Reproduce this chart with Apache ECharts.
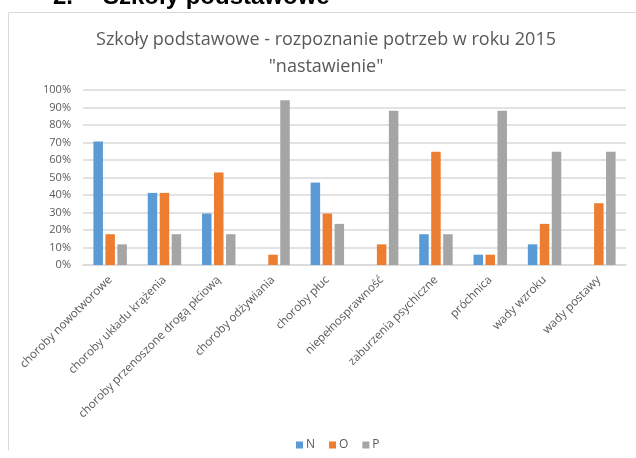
<!DOCTYPE html>
<html>
<head>
<meta charset="utf-8">
<script src="https://cdn.jsdelivr.net/npm/echarts@6/dist/echarts.min.js"></script>
<style>html,body{margin:0;padding:0;background:#fff;}#c{width:636px;height:458px;}</style>
</head>
<body>
<div id="c"></div>
<script>
const categories = ['choroby nowotworowe','choroby układu krążenia','choroby przenoszone drogą płciową','choroby odżywiania','choroby płuc','niepełnosprawność','zaburzenia psychiczne','próchnica','wady wzroku','wady postawy'];
const seriesNames = ['N','O','P'];
const valuesN = [70.6, 41.2, 29.4, 0, 47.1, 0, 17.6, 5.9, 11.8, 0];
const valuesO = [17.6, 41.2, 52.9, 5.9, 29.4, 11.8, 64.7, 5.9, 23.5, 35.3];
const valuesP = [11.8, 17.6, 17.6, 94.1, 23.5, 88.2, 17.6, 88.2, 64.7, 64.7];
const yTicks = [0,10,20,30,40,50,60,70,80,90,100];
const colors = ['#5B9BD5','#ED7D31','#A5A5A5'];
const font = 'Open Sans';
const chart = echarts.init(document.getElementById('c'));
const mk = (name, data, i) => ({
  name, type: 'bar', data, barWidth: 9.5, barGap: '26%',
  itemStyle: { color: colors[i] }
});
chart.setOption({
  animation: false,
  textStyle: { fontFamily: font },
  title: {
    text: 'Szkoły podstawowe - rozpoznanie potrzeb w roku 2015\n"nastawienie"',
    left: 321, top: 21, textAlign: 'center',
    textStyle: { fontFamily: font, fontSize: 18, fontWeight: 'normal', color: '#595959', lineHeight: 27 }
  },
  graphic: [
    { type: 'polyline', shape: { points: [[8.5, 450], [8.5, 12.5], [636, 12.5]] }, style: { stroke: '#D9D9D9', fill: null, lineWidth: 1 } },
    { type: 'text', left: 53, top: -15, style: { text: '2.', font: 'bold 24px "Liberation Sans"', fill: '#000' } },
    { type: 'text', left: 103, top: -15, style: { text: 'Szkoły podstawowe', font: 'bold 24px "Liberation Sans"', fill: '#000' } }
  ],
  legend: {
    data: seriesNames, left: 291, top: 434, itemWidth: 7, itemHeight: 7, itemGap: 14,
    icon: 'rect',
    textStyle: { fontFamily: font, fontSize: 12, color: '#595959', padding: [0,0,0,-2] }
  },
  grid: { left: 83, right: 10, top: 90, bottom: 193, containLabel: false, outerBoundsMode: 'none' },
  xAxis: {
    type: 'category', data: categories,
    axisLine: { lineStyle: { color: '#D9D9D9', width: 1.5 } },
    axisTick: { show: false },
    axisLabel: { rotate: 45, interval: 0, margin: 13, fontSize: 11.6, color: '#595959', fontFamily: font }
  },
  yAxis: {
    type: 'value', min: 0, max: 100, interval: 10,
    axisLabel: { formatter: v => yTicks.includes(v) ? v + '%' : '', fontSize: 11, color: '#595959', margin: 12, fontFamily: font },
    splitLine: { lineStyle: { color: '#D9D9D9', width: 1.5 } },
    axisLine: { show: false }, axisTick: { show: false }
  },
  series: [mk('N', valuesN, 0), mk('O', valuesO, 1), mk('P', valuesP, 2)]
});
</script>
</body>
</html>
